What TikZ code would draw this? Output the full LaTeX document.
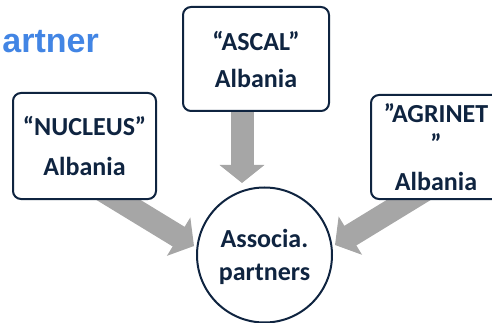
\documentclass[tikz,border=0pt]{standalone}
\usepackage{fontspec}
\newfontfamily\carl{Carlito}
\newfontfamily\arialf{Liberation Sans}
\usetikzlibrary{arrows.meta,calc}
\definecolor{navy}{HTML}{0F2440}
\definecolor{arrowgray}{HTML}{A6A6A6}
\definecolor{titleblue}{HTML}{4285E4}
\pgfdeclarelayer{background}
\pgfsetlayers{background,main}
\tikzset{
  box/.style={draw=navy, line width=2pt, rounded corners=8pt, fill=white, text=navy,
    font=\carl\bfseries\fontsize{26}{30}\selectfont, align=center, inner sep=0pt},
  hub/.style={circle, draw=navy, line width=2pt, fill=white, text=navy,
    font=\carl\bfseries\fontsize{26}{30}\selectfont, align=center, inner sep=0pt},
  blk/.style={draw=arrowgray, line width=23pt, -{Triangle[length=18pt,width=44pt]}},
  ttl/.style={font=\arialf\bfseries\fontsize{34}{40}\selectfont, text=titleblue, inner sep=0pt}
}
\begin{document}
\begin{tikzpicture}[x=1pt,y=-1pt]
\clip (0,0) rectangle (492,323);
\node[ttl, anchor=base east] (title) at (99,52.5) {artner};
\node[box, minimum width=143pt, minimum height=106pt] (nucleus) at (84.5,146) {“NUCLEUS”\\[10pt]Albania};
\node[box, minimum width=146pt, minimum height=104pt] (ascal) at (256,59) {“ASCAL”\\[7pt]Albania};
\node[box, minimum width=130pt, minimum height=104pt] (agrinet) at (436,147) {”AGRINET\\”\\[8pt]Albania};
\node[hub, minimum size=135pt, text depth=0pt] (assoc) at (264.5,255) {Associa.\\[3pt]partners};
\coordinate (nucOut) at ($(nucleus.south)+(16,-11)$);
\coordinate (ascOut) at ($(ascal.south)+(-14,-20)$);
\coordinate (agrOut) at ($(agrinet.south)+(-7.7,-12)$);
\coordinate (inL) at ($(assoc.center)+(-70.5,-9)$);
\coordinate (inT) at ($(assoc.center)+(-22.5,-72)$);
\coordinate (inR) at ($(assoc.center)+(70.5,-10)$);
\begin{pgfonlayer}{background}
\draw[blk] (nucOut) -- (inL);
\draw[blk] (ascOut) -- (inT);
\draw[blk] (agrOut) -- (inR);
\end{pgfonlayer}
\end{tikzpicture}
\end{document}
